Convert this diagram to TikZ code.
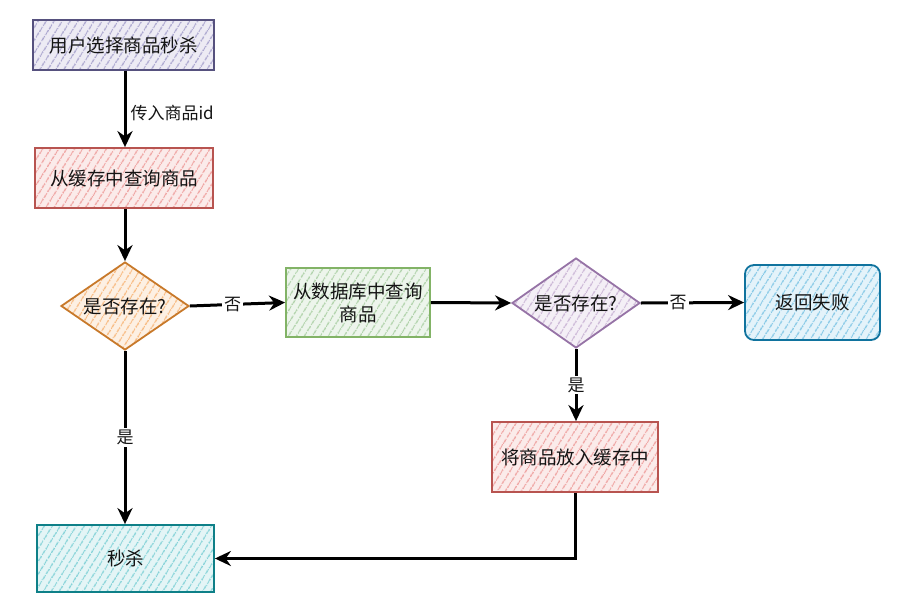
\documentclass[tikz,border=0pt]{standalone}
\usepackage{fontspec}
\setmainfont{Noto Sans CJK SC}
\usetikzlibrary{patterns.meta,shapes.geometric,arrows.meta}
\definecolor{pBd}{HTML}{56517E}\definecolor{pFl}{HTML}{ABA6CF}
\definecolor{rBd}{HTML}{B85450}\definecolor{rFl}{HTML}{EFA3A1}
\definecolor{oBd}{HTML}{C8792A}\definecolor{oFl}{HTML}{F8BA80}
\definecolor{gBd}{HTML}{82B366}\definecolor{gFl}{HTML}{AFD2A9}
\definecolor{vBd}{HTML}{9673A6}\definecolor{vFl}{HTML}{CBB6D6}
\definecolor{bBd}{HTML}{10739E}\definecolor{bFl}{HTML}{85C8E6}
\definecolor{tBd}{HTML}{0E8088}\definecolor{tFl}{HTML}{86D3D8}
\definecolor{txt}{HTML}{141414}
\tikzset{
  hatch/.style={preaction={fill=#1!22},pattern={Lines[angle=58,distance=6.5pt,line width=1.4pt]},pattern color=#1},
  box/.style={draw=#1Bd,line width=1.8pt,hatch=#1Fl,minimum height=50pt,inner sep=0pt,
    text=txt,font=\fontsize{18.5}{23}\selectfont,align=center},
  dia/.style={diamond,draw=#1Bd,line width=1.8pt,hatch=#1Fl,inner sep=0pt,minimum width=128pt,minimum height=88pt},
  dtext/.style={text=txt,font=\fontsize{18.5}{23}\selectfont},
  arr/.style={line width=3pt,black,-{Stealth[length=16pt,width=15pt]}},
  lbl/.style={fill=white,text=txt,inner sep=2pt,font=\fontsize{17}{21}\selectfont}
}
\begin{document}
\begin{tikzpicture}[x=1pt,y=-1pt]
\useasboundingbox (0,0) rectangle (913,597);
\node[box=p,minimum width=181pt,minimum height=50pt] (b1) at (123.5,45) {用户选择商品秒杀};
\node[box=r,minimum width=178pt,minimum height=60pt] (b2) at (124,178) {从缓存中查询商品};
\node[dia=o] (d1) at (125,306) {};
\node[dtext] (t1) at (d1.center) {是否存在?};
\node[box=g,minimum width=144pt,minimum height=69pt] (b3) at (358,302.5) {从数据库中查询\\商品};
\node[dia=v,minimum height=90pt] (d2) at (576,303) {};
\node[dtext] (t2) at (d2.center) {是否存在?};
\node[box=b,rounded corners=9pt,minimum width=135pt,minimum height=75pt] (b4) at (812.5,302.5) {返回失败};
\node[box=r,minimum width=166pt,minimum height=70pt] (b5) at (575,457) {将商品放入缓存中};
\node[box=t,minimum width=177pt,minimum height=67pt] (b6) at (125.5,558.5) {秒杀};

\draw[arr] (b1.south -| d1.north) -- (b2.north -| d1.north) node[pos=0.55,right=2pt,lbl,fill=none] (l1) {传入商品id};
\draw[arr] (b2.south -| d1.north) -- (d1.north);
\draw[arr] (d1.east) -- (b3.west) node[pos=0.45,lbl] (l2) {否};
\draw[arr] (b3.east) -- (d2.west);
\draw[arr] (d2.east) -- (b4.west) node[pos=0.36,lbl] (l3) {否};
\draw[arr] (d2.south) -- (d2.south |- b5.north) node[midway,lbl] (l4) {是};
\draw[arr] (d1.south) -- (b6.north -| d1.south) node[pos=0.5,lbl] (l5) {是};
\draw[arr] (b5.south) |- (b6.east);
\end{tikzpicture}
\end{document}
